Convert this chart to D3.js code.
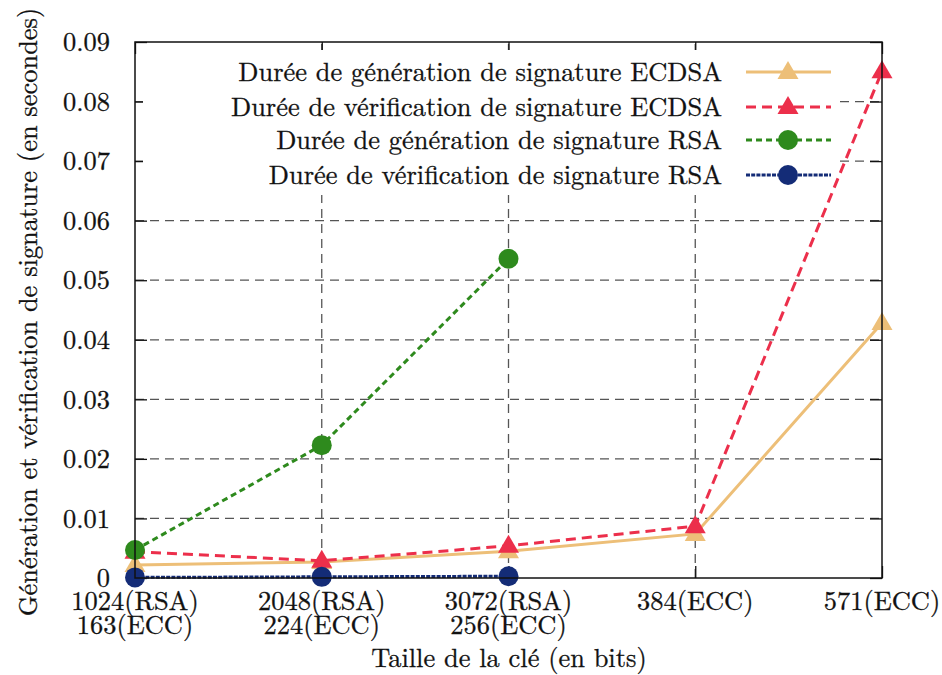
<!DOCTYPE html>
<html><head><meta charset="utf-8">
<script src="https://cdn.jsdelivr.net/npm/d3@7"></script>
<style>body{margin:0;background:#fff}svg{display:block}</style>
</head><body><svg id="c" width="942" height="675"></svg>
<script>
const categories = [["1024(RSA)","163(ECC)"],["2048(RSA)","224(ECC)"],["3072(RSA)","256(ECC)"],["384(ECC)"],["571(ECC)"]];
const ecdsaGen = [0.0022, 0.0027, 0.0045, 0.0074, 0.0428];
const ecdsaVer = [0.0044, 0.0029, 0.0054, 0.0087, 0.0851];
const rsaGen = [0.0047, 0.0223, 0.0536];
const rsaVer = [0.0001, 0.0002, 0.0003];
const yTicks = [0,0.01,0.02,0.03,0.04,0.05,0.06,0.07,0.08,0.09];
const seriesNames = ["Durée de génération de signature ECDSA","Durée de vérification de signature ECDSA","Durée de génération de signature RSA","Durée de vérification de signature RSA"];
const xTitle = "Taille de la clé (en bits)";
const yTitle = "Génération et vérification de signature (en secondes)";

const series = [
  {name:seriesNames[0], vals:ecdsaGen, color:"#EDBF78", dash:null, shape:"tri"},
  {name:seriesNames[1], vals:ecdsaVer, color:"#EC2F4B", dash:"10,6", shape:"tri"},
  {name:seriesNames[2], vals:rsaGen, color:"#2E8A1D", dash:"6,4", shape:"circ"},
  {name:seriesNames[3], vals:rsaVer, color:"#142C77", dash:"4,1.2", shape:"circ"}
];

const L=135, R=882, T=42, B=578;
const FONT = '"Latin Modern Roman"';
const svg = d3.select("#c");
const x = d3.scalePoint().domain(d3.range(categories.length)).range([L,R]);
const y = d3.scaleLinear().domain([0,0.09]).range([B,T]);

const probe = svg.append("text").style("font-family",FONT).style("font-size","20px").text(seriesNames[0]);
const FS = 20 * 484 / probe.node().getComputedTextLength();
probe.remove();
function styleText(sel){
  return sel.style("font-family",FONT).style("font-size",FS+"px").attr("fill","#111").attr("stroke","#111").attr("stroke-width",0.3);
}
function txt(parent){ return styleText(parent.append("text")); }

// grid
const grid = svg.append("g").attr("stroke","#555").attr("stroke-width",1.3).attr("stroke-dasharray","9,6");
yTicks.slice(1,-1).forEach(t=>grid.append("line").attr("x1",L).attr("x2",R).attr("y1",y(t)).attr("y2",y(t)));
d3.range(1,categories.length-1).forEach(i=>grid.append("line").attr("x1",x(i)).attr("x2",x(i)).attr("y1",B).attr("y2",T));

// axes
const ya = d3.axisLeft(y).tickValues(yTicks).tickFormat(d=>d===0?"0":d3.format(".2f")(d)).tickSize(-12);
const yg = svg.append("g").attr("transform",`translate(${L},0)`).call(ya);
const xa = d3.axisBottom(x).tickSize(-12).tickFormat(()=>"");
const xg = svg.append("g").attr("transform",`translate(0,${B})`).call(xa);
const xt = d3.axisTop(x).tickSize(-12).tickFormat(()=>"");
const xtg = svg.append("g").attr("transform",`translate(0,${T})`).call(xt);
const yr = d3.axisRight(y).tickValues(yTicks).tickSize(-12).tickFormat(()=>"");
const yrg = svg.append("g").attr("transform",`translate(${R},0)`).call(yr);
[yg,xg,xtg,yrg].forEach(g=>{g.select(".domain").remove();g.selectAll("line").attr("stroke","#111").attr("stroke-width",1.3);});
styleText(yg.selectAll("text")).attr("text-anchor","end").attr("x",-25).attr("dy","0.33em");

// x labels
categories.forEach((c,i)=>{
  c.forEach((s,j)=>txt(svg).attr("x",x(i)).attr("y",610+j*24).attr("text-anchor","middle").text(s));
});

// legend background
svg.append("rect").attr("x",L+8).attr("y",T+8).attr("width",840-L-8).attr("height",195-T-8).attr("fill","#fff");

// series
const line = d3.line().x((d,i)=>x(i)).y(d=>y(d));
const triPath = "M0,-11L10.5,7L-10.5,7Z";
function marker(g, cx, cy, s){
  if(s.shape==="tri") g.append("path").attr("d",triPath).attr("transform",`translate(${cx},${cy})`).attr("fill",s.color);
  else g.append("circle").attr("cx",cx).attr("cy",cy).attr("r",10).attr("fill",s.color);
}
series.forEach(s=>{
  const g = svg.append("g");
  g.append("path").attr("d",line(s.vals)).attr("fill","none").attr("stroke",s.color).attr("stroke-width",3)
    .attr("stroke-dasharray",s.dash);
  s.vals.forEach((v,i)=>marker(g,x(i),y(v),s));
});

// frame
svg.append("rect").attr("x",L).attr("y",T).attr("width",R-L).attr("height",B-T).attr("fill","none").attr("stroke","#111").attr("stroke-width",1.5);

// legend
const legY = [72,107,140,175];
series.forEach((s,k)=>{
  const g = svg.append("g");
  txt(g).attr("x",722).attr("y",legY[k]).attr("dy","0.33em").attr("text-anchor","end").text(s.name);
  g.append("line").attr("x1",746).attr("x2",831).attr("y1",legY[k]).attr("y2",legY[k]).attr("stroke",s.color).attr("stroke-width",3).attr("stroke-dasharray",s.dash);
  marker(g,788,legY[k],s);
});

// titles
txt(svg).attr("x",509).attr("y",667).attr("text-anchor","middle").text(xTitle);
txt(svg).attr("transform","translate(37,312) rotate(-90)").attr("text-anchor","middle").text(yTitle);
</script></body></html>
